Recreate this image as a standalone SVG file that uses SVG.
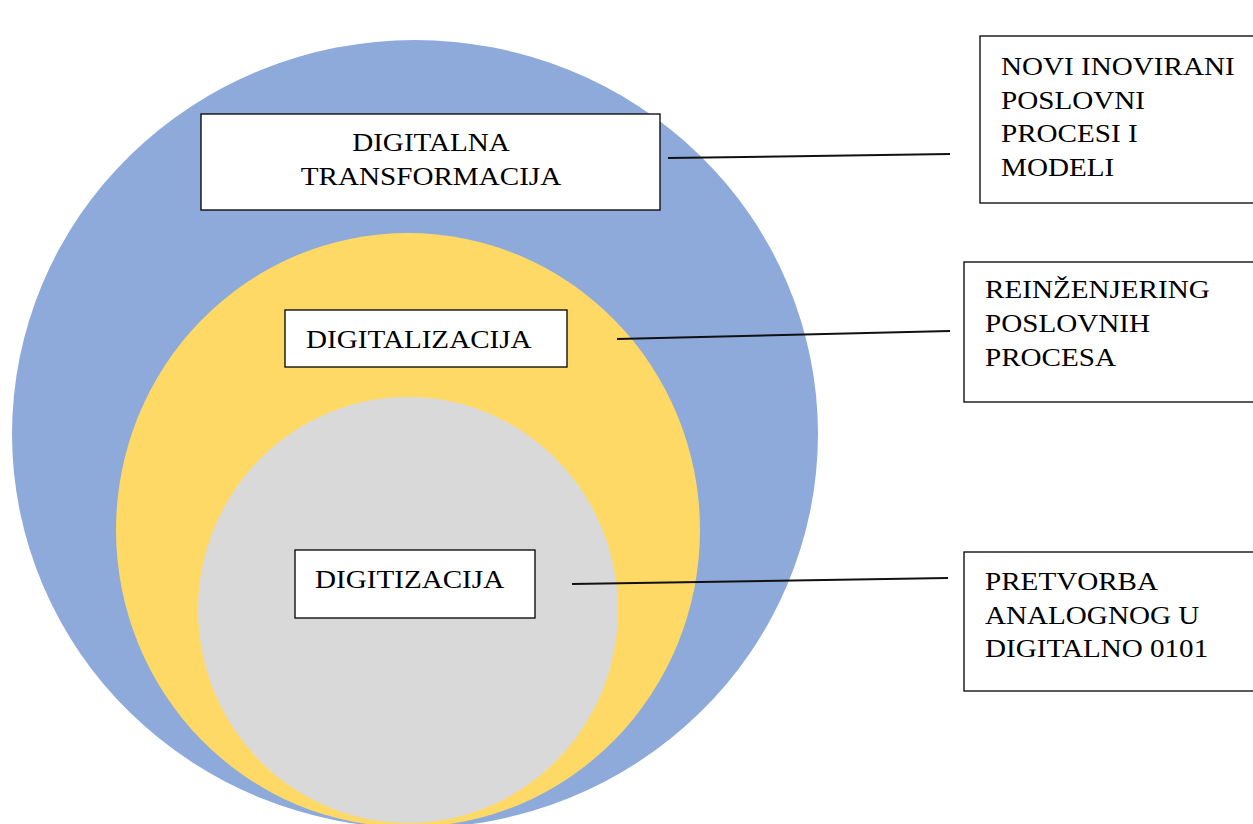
<svg xmlns="http://www.w3.org/2000/svg" width="1253" height="824" viewBox="0 0 1253 824">
<style>
.box{fill:#fff;stroke:#000;stroke-width:1.3}
.t{font-family:'Liberation Serif','Times New Roman',serif;font-size:25px;fill:#000}
.c{text-anchor:middle}
.ln{stroke:#111;stroke-width:2;fill:none}
</style>
<rect width="1253" height="824" fill="#fff"/>
<g id="circles">
<ellipse id="outer" cx="415" cy="434" rx="403" ry="394" fill="#8EAADB"/>
<ellipse id="middle" cx="408" cy="530" rx="292" ry="297" fill="#FFD966"/>
<ellipse id="inner" cx="408" cy="610" rx="210" ry="213" fill="#D9D9D9"/>
</g>
<g id="connectors">
<line class="ln" x1="668" y1="158" x2="950" y2="154"/>
<line class="ln" x1="617" y1="339" x2="950" y2="331"/>
<line class="ln" x1="572" y1="584" x2="948" y2="578"/>
</g>
<g id="n-transformacija">
<rect class="box" x="201" y="114" width="459" height="96"/>
<g transform="translate(431 0) scale(1.165 1)">
<text class="t c" x="0" y="151">DIGITALNA</text>
<text class="t c" x="0" y="185">TRANSFORMACIJA</text>
</g>
</g>
<g id="n-digitalizacija">
<rect class="box" x="285" y="310" width="282" height="57"/>
<g transform="translate(306 0) scale(1.165 1)">
<text class="t" x="0" y="348">DIGITALIZACIJA</text>
</g>
</g>
<g id="n-digitizacija">
<rect class="box" x="295" y="550" width="240" height="68"/>
<g transform="translate(315 0) scale(1.165 1)">
<text class="t" x="0" y="588">DIGITIZACIJA</text>
</g>
</g>
<g id="n-novi">
<rect class="box" x="980" y="36" width="280" height="167"/>
<g transform="translate(1001 0) scale(1.165 1)">
<text class="t" x="0" y="75">NOVI INOVIRANI</text>
<text class="t" x="0" y="109">POSLOVNI</text>
<text class="t" x="0" y="142">PROCESI I</text>
<text class="t" x="0" y="176">MODELI</text>
</g>
</g>
<g id="n-reinz">
<rect class="box" x="964" y="262" width="296" height="140"/>
<g transform="translate(985 0) scale(1.165 1)">
<text class="t" x="0" y="298">REINŽENJERING</text>
<text class="t" x="0" y="332">POSLOVNIH</text>
<text class="t" x="0" y="366">PROCESA</text>
</g>
</g>
<g id="n-pretvorba">
<rect class="box" x="964" y="552" width="296" height="139"/>
<g transform="translate(985 0) scale(1.165 1)">
<text class="t" x="0" y="590">PRETVORBA</text>
<text class="t" x="0" y="624">ANALOGNOG U</text>
<text class="t" x="0" y="657">DIGITALNO 0101</text>
</g>
</g>
</svg>
